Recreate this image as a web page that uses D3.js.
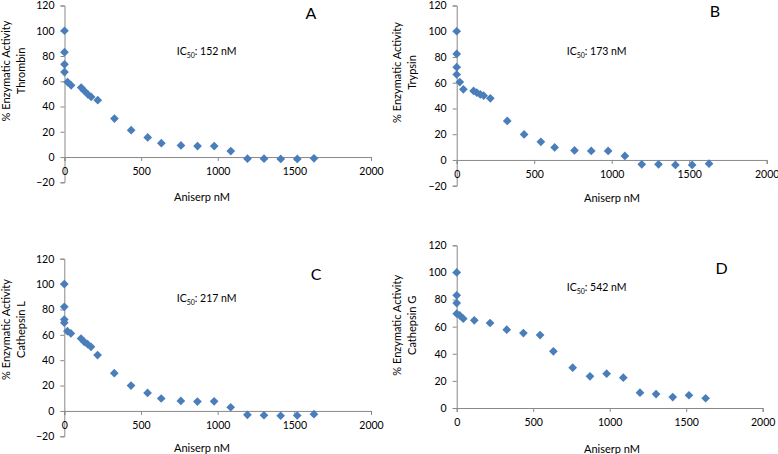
<!DOCTYPE html>
<html><head><meta charset="utf-8">
<script src="https://cdn.jsdelivr.net/npm/d3@7"></script>
<style>
body{margin:0;background:#fff;}
svg{display:block;font-family:Lato,"Open Sans",sans-serif;}
</style></head><body>
<svg id="c" width="778" height="454"></svg>
<script>
// ---- data ----
const conc = [0,0,0,0,20,43,109,130,152,174,217,326,435,543,632,760,868,977,1085,1194,1302,1411,1519,1628];
const concD = [0,0,0,0,20,43,115,218,327,436,545,632,758,871,980,1089,1198,1303,1412,1518,1627];
const thrombin = [100,83,73.4,67.3,59.4,56.8,55,52.3,49.7,47.6,45,30.5,21.3,15.5,11,9.2,8.7,8.7,4.7,-1.3,-1.3,-1.5,-1.5,-1];
const trypsin = [100,82.4,72.1,66.4,60.5,54.9,53.6,52.3,51,49.9,47.9,30.3,19.8,14.1,9.7,7.4,7,7,3.1,-3.4,-3.4,-3.9,-3.9,-2.9];
const cathepsinL = [100,82.1,72,69.5,62.9,61.1,57.1,54.5,52.6,50.5,44,29.8,20,14.2,9.8,7.9,7.4,7.6,2.9,-3.1,-3.4,-3.8,-3.6,-2.6];
const cathepsinG = [100,83.1,77.4,69.6,68.3,65.9,64.7,62.7,57.8,55.3,53.8,41.8,29.7,23.4,25.3,22.4,11.3,10.3,8.1,9.4,7.2];
const panelLetters = ["A","B","C","D"];
const enzymes = ["Thrombin","Trypsin","Cathepsin L","Cathepsin G"];
const ic50 = ["152","173","217","542"];
const xTicks = [0,500,1000,1500,2000];
const yTicksNeg = [-20,0,20,40,60,80,100,120];
const yTicksPos = [0,20,40,60,80,100,120];
const xTitle = "Aniserp nM";
const yTitle = "% Enzymatic Activity";

// ---- layout ----
const panels = [
  {x:conc, y:thrombin, xr:[64.5,371], yd:[-20,120], yr:[182.3,5.5], yt:yTicksNeg,
   letter:[311,18.5], ic:[176.7,55], xt:[202,201], ytc:71, ytx:[10,25]},
  {x:conc, y:trypsin, xr:[456.7,766.7], yd:[-20,120], yr:[185.7,5.5], yt:yTicksNeg,
   letter:[715,17], ic:[566.7,55], xt:[612,201.5], ytc:72.5, ytx:[401,415.5]},
  {x:conc, y:cathepsinL, xr:[64.3,371], yd:[-20,120], yr:[436.3,258.7], yt:yTicksNeg,
   letter:[316,279.5], ic:[176.7,302], xt:[202,451.5], ytc:329.5, ytx:[10,25]},
  {x:concD, y:cathepsinG, xr:[456.7,762.7], yd:[0,120], yr:[408,245.3], yt:yTicksPos,
   letter:[721.7,273.5], ic:[566.7,291], xt:[612,452.5], ytc:325.3, ytx:[401,415.5]}
];

const svg = d3.select("#c");
const axisColor = "#898989";
const markColor = "#4A7EBB";
const textColor = "#000";

panels.forEach((p,i)=>{
  const g = svg.append("g");
  const xs = d3.scaleLinear().domain([0,2000]).range(p.xr);
  const ys = d3.scaleLinear().domain(p.yd).range(p.yr);
  const y0 = ys(p.yd[0] < 0 ? 0 : p.yd[0]);

  const ya = g.append("g").attr("transform",`translate(${xs(0)},0)`)
    .call(d3.axisLeft(ys).tickValues(p.yt).tickSize(4).tickSizeOuter(4).tickPadding(6).tickFormat(d3.format("d")));
  const xa = g.append("g").attr("transform",`translate(0,${y0})`)
    .call(d3.axisBottom(xs).tickValues(xTicks).tickSize(4).tickSizeOuter(4).tickFormat(d3.format("d")));
  [ya,xa].forEach(a=>{
    a.select(".domain").attr("stroke",axisColor);
    a.selectAll(".tick line").attr("stroke",axisColor);
    a.selectAll("text").attr("fill",textColor).style("font-size","10.5px").style("font-family","Lato, 'Open Sans', sans-serif");
  });
  xa.selectAll("text").attr("y",14).attr("dy","0.35em");

  g.append("g").selectAll("path").data(p.x.map((v,k)=>[v,p.y[k]])).join("path")
    .attr("d", d3.symbol().type(d3.symbolSquare).size(38))
    .attr("transform",d=>`translate(${xs(d[0])},${ys(d[1])}) rotate(45)`)
    .attr("fill",markColor);

  g.append("text").attr("x",p.letter[0]).attr("y",p.letter[1]).attr("text-anchor","middle")
    .style("font-size","16px").attr("fill",textColor).text(panelLetters[i]);

  const t = g.append("text").attr("x",p.ic[0]).attr("y",p.ic[1]).style("font-size","10.5px").attr("fill",textColor);
  t.append("tspan").text("IC");
  t.append("tspan").attr("dy","2.5").style("font-size","7px").text("50");
  t.append("tspan").attr("dy","-2.5").text(": " + ic50[i] + " nM");

  g.append("text").attr("x",p.xt[0]).attr("y",p.xt[1]).attr("text-anchor","middle")
    .style("font-size","11px").attr("fill",textColor).text(xTitle);

  [yTitle, enzymes[i]].forEach((s,k)=>{
    g.append("text").attr("transform",`translate(${p.ytx[k]},${p.ytc}) rotate(-90)`)
      .attr("text-anchor","middle").style("font-size","11px").attr("fill",textColor).text(s);
  });
});
</script>
</body></html>
